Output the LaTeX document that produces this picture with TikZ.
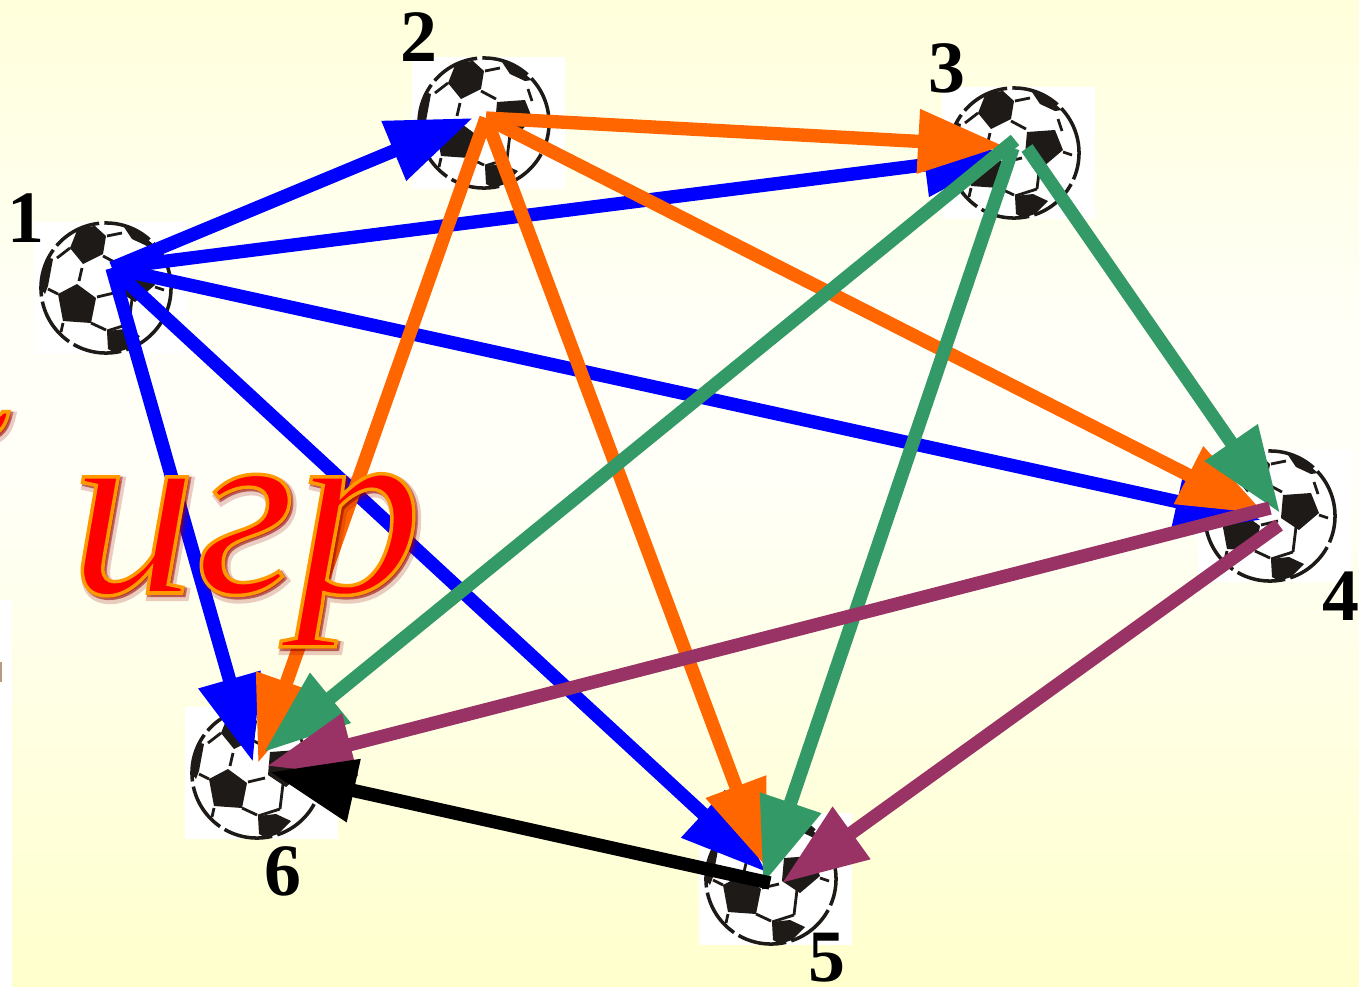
\documentclass[tikz,border=0pt]{standalone}
\usepackage{fontspec}
\setmainfont{Liberation Serif}
\usetikzlibrary{arrows.meta}
\definecolor{arrowblue}{HTML}{0000FF}
\definecolor{arroworange}{HTML}{FF6600}
\definecolor{arrowgreen}{HTML}{339966}
\definecolor{arrowpurple}{HTML}{993366}
\definecolor{ballink}{HTML}{1E1A17}
\newcommand{\titlestroke}{\special{pdf:code 2 Tr 1 w 1 0.6 0 RG 1 0 0 rg}}
\newcommand{\titleglow}[1]{\special{pdf:code 2 Tr #1 w 0.6 0 0 RG 0.6 0 0 rg}}
\tikzset{
	match/.style={line width=3.8pt,-{Triangle[length=24.4pt,width=17.4pt]}},
	ballno/.style={font=\fontsize{21}{21}\selectfont\bfseries,inner sep=0pt},
	titleword/.style={anchor=base west,inner sep=0pt,font=\fontsize{72}{72}\selectfont\itshape},
	ball/.pic={
		\fill[white] (-72,-66) rectangle (81,66);
		\draw[ballink,line width=1pt,dash pattern=on 14pt off 1.5pt] (0,0) circle (0.65cm);
		\fill[ballink] (-28,-60)--(-11,-62)--(0,-52)--(-3,-34)--(-23,-24)--(-36,-40)--cycle;
		\fill[ballink] (-29,-4)--(-10,10)--(-15,35)--(-43,33)--(-48,6)--cycle;
		\fill[ballink] (1,43)--(19,41)--(34,48)--(21,61)--(9,65)--(2,61)--cycle;
		\fill[ballink] (13,-21)--(41,-23)--(49,-3)--(29,14)--(11,2)--cycle;
		\fill[ballink] (18,-61)--(33,-56)--(48,-43)--(41,-42)--(26,-49)--cycle;
		\fill[ballink] (-63,-19)--(-56,-30)--(-53,-29)--(-58,-2)--(-61,6)--(-65,1)--cycle;
		\foreach \ax/\ay/\bx/\by in {-24/-20/-27/-7,-9/9/8/5,-15/35/0/42,-43/35/-45/44,-48/6/-58/1,-36/-40/-49/-30,1/-52/16/-55,-3/-32/12/-24,44/-34/48/-22,26/11/23/36,49/-1/58/2,23/36/1/43}
			\draw[ballink,line width=0.8pt] (\ax,\ay)--(\bx,\by);
	}
}
\begin{document}
\begin{tikzpicture}[x=0.01cm,y=-0.01cm]
\useasboundingbox (0,0) rectangle (1359,987);

%background
\shade[top color=yellow!14!white,bottom color=white!97!yellow] (0,0) rectangle (1359,330);
\fill[white!97!yellow] (0,330) rectangle (1359,480);
\shade[top color=white!97!yellow,bottom color=yellow!20!white] (0,480) rectangle (1359,987);
\fill[white] (0,600) rectangle (12,987);
\fill[brown!70!black,opacity=0.6] (0,662) rectangle (2,682);

%balls
\pic at (106,288) {ball};
\pic at (484,123) {ball};
\pic at (1014,153) {ball};
\pic at (1270,516) {ball};
\pic at (771,879) {ball};
\pic at (257,773) {ball};

%ends of the arrows
\coordinate (tail1) at (112,268);
\coordinate (tail2) at (486,118);
\coordinate (tail34) at (1027,148);
\coordinate (tail35) at (1013,148);
\coordinate (tail36) at (1015,140);
\coordinate (tail45) at (1279,525);
\coordinate (tail46) at (1270,508);
\coordinate (tail56) at (770,883);
\coordinate (tip12) at (473,118);
\coordinate (tip13) at (1010,154);
\coordinate (tip14) at (1261,520);
\coordinate (tip15) at (766,872);
\coordinate (tip16) at (253,762);
\coordinate (tip23) at (1004,146);
\coordinate (tip24) at (1265,514);
\coordinate (tip25) at (766,867);
\coordinate (tip26) at (258,763);
\coordinate (tip34) at (1280,513);
\coordinate (tip35) at (763,884);
\coordinate (tip36) at (264,752);
\coordinate (tip45) at (782,883);
\coordinate (tip46) at (267,766);
\coordinate (tip56) at (270,772);

%matches
\foreach \t in {12,13,14,15,16}
	\draw[match,arrowblue] (tail1)--(tip\t);
\foreach \t in {23,24,25,26}
	\draw[match,arroworange] (tail2)--(tip\t);
\foreach \t in {34,35,36}
	\draw[match,arrowgreen] (tail\t)--(tip\t);
\foreach \t in {45,46}
	\draw[match,arrowpurple] (tail\t)--(tip\t);
\draw[match,black] (tail56)--(tip56);

%numbers
\node[ballno] (no1) at (26,218) {1};
\node[ballno] (no2) at (419,37) {2};
\node[ballno] (no3) at (947,68) {3};
\node[ballno] (no4) at (1341,596) {4};
\node[ballno] (no5) at (827,958) {5};
\node[ballno] (no6) at (283,871) {6};

%title, its first letter is cut off at the left
\node[titleword,opacity=0.2] (glowa) at (-123,597) {\titleglow{2.4}б};
\node[titleword,opacity=0.2] (glowb) at (72,597) {\titleglow{2.4}игр};
\node[titleword,opacity=0.45] (shadea) at (-124,595) {\titleglow{1.2}б};
\node[titleword,opacity=0.45] (shadeb) at (71,595) {\titleglow{1.2}игр};
\node[titleword] (letter) at (-126,593) {\titlestroke б};
\node[titleword] (word) at (69,593) {\titlestroke игр};
\end{tikzpicture}
\end{document}
